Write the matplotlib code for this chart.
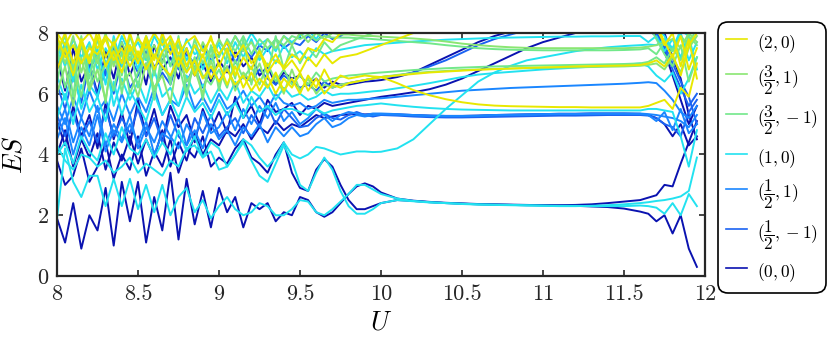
import matplotlib
matplotlib.use("Agg")
import matplotlib.pyplot as plt
from matplotlib.lines import Line2D

# ── Colours (one per symmetry sector) ───────────────────────
PALETTE = {
    "y":   "#e8e800",   # (2,0)
    "g1":  "#8ae672",   # (3/2,1)
    "g2":  "#72e88a",   # (3/2,-1)
    "c":   "#22e2f0",   # (1,0)
    "b1":  "#1a86ff",   # (1/2,1)
    "b2":  "#1a62f2",   # (1/2,-1)
    "d":   "#0a12b0",   # (0,0)
}

plt.rcParams.update({
    "font.family": "serif",
    "font.serif": ["cmr10", "DejaVu Serif"],
    "mathtext.fontset": "cm",
    "axes.unicode_minus": False,
})

# ── Data: U grid and entanglement-spectrum levels ───────────
U = [8.00, 8.05, 8.10, 8.15, 8.20, 8.25, 8.30, 8.35, 8.40, 8.45,
     8.50, 8.55, 8.60, 8.65, 8.70, 8.75, 8.80, 8.85, 8.90, 8.95,
     9.00, 9.05, 9.10, 9.15, 9.20, 9.25, 9.30, 9.35, 9.40, 9.45,
     9.50, 9.55, 9.60, 9.65, 9.70, 9.75, 9.80, 9.85, 9.90, 9.95,
     10.0, 10.1, 10.2, 10.3, 10.4, 10.5, 10.6, 10.7, 10.8, 10.9,
     11.0, 11.1, 11.2, 11.3, 11.4, 11.5, 11.6, 11.65, 11.7, 11.75,
     11.8, 11.85, 11.9, 11.95]

# (0,0) sector
es_d_low = [1.9, 1.1, 2.4, 0.9, 2.0, 1.5, 2.9, 1.0, 3.1, 1.8,
            3.1, 1.1, 2.6, 1.5, 3.4, 1.2, 3.2, 1.7, 2.8, 1.6,
            2.9, 2.1, 2.6, 1.6, 2.4, 2.2, 2.4, 1.8, 2.1, 2.0,
            2.6, 2.5, 2.1, 1.95, 2.1, 2.4, 2.7, 2.95, 3.05, 2.95,
            2.75, 2.55, 2.48, 2.44, 2.41, 2.39, 2.37, 2.36, 2.35, 2.34,
            2.33, 2.32, 2.31, 2.29, 2.27, 2.22, 2.12, 2.05, 1.8, 2.0,
            1.4, 2.0, 0.9, 0.3]
es_d_up = [3.8, 3.0, 3.3, 4.2, 3.1, 3.6, 4.4, 3.2, 4.0, 3.5,
           4.6, 3.3, 4.1, 3.6, 4.5, 3.4, 4.2, 3.9, 4.6, 3.6,
           3.9, 3.7, 4.2, 4.5, 3.9, 3.7, 3.4, 4.0, 4.4, 3.4,
           2.9, 2.8, 3.5, 3.85, 3.6, 3.0, 2.5, 2.2, 2.2, 2.3,
           2.4, 2.5, 2.47, 2.43, 2.40, 2.38, 2.36, 2.35, 2.34, 2.33,
           2.33, 2.33, 2.34, 2.36, 2.40, 2.45, 2.50, 2.58, 2.66, 3.0,
           2.95, 3.7, 4.4, 5.1]
es_d_mid = [4.0, 4.8, 3.6, 4.5, 3.9, 4.7, 3.5, 4.4, 3.8, 4.6,
            3.7, 4.5, 3.9, 4.8, 3.6, 4.4, 3.8, 4.7, 4.0, 4.5,
            4.3, 4.8, 4.6, 5.0, 4.5, 4.9, 4.7, 5.1, 4.8, 5.0,
            4.9, 5.1, 5.3, 5.2, 5.25, 5.3, 5.32, 5.33, 5.32, 5.33,
            5.33, 5.32, 5.30, 5.28, 5.27, 5.27, 5.28, 5.30, 5.31, 5.32,
            5.33, 5.34, 5.34, 5.35, 5.35, 5.35, 5.34, 5.30, 5.20, 5.00,
            4.6, 5.0, 4.3, 4.6]
es_d_rise1 = [5.1, 4.3, 5.6, 4.6, 5.3, 4.2, 5.7, 4.5, 5.4, 4.3,
              5.8, 4.6, 5.5, 4.4, 5.6, 4.9, 5.3, 4.4, 5.5, 4.8,
              5.4, 4.7, 5.9, 5.2, 5.6, 5.0, 5.8, 5.4, 5.5, 5.7,
              5.3, 5.6, 5.5, 5.7, 5.6, 5.65, 5.7, 5.75, 5.8, 5.85,
              5.90, 5.97, 6.05, 6.15, 6.30, 6.50, 6.75, 7.00, 7.25, 7.50,
              7.70, 7.85, 8.00, 8.10, 8.20, 8.20, 8.20, 8.20, 8.20, 8.00,
              7.2, 6.5, 5.3, 4.5]
es_d_rise2 = [7.2, 6.1, 7.5, 6.4, 7.0, 6.0, 7.4, 6.5, 7.7, 6.6,
              7.3, 6.3, 7.6, 6.8, 7.2, 6.5, 7.5, 6.6, 7.0, 6.4,
              7.1, 6.7, 7.4, 6.9, 7.2, 6.6, 6.9, 6.3, 6.7, 6.5,
              6.6, 6.3, 6.5, 6.2, 6.4, 6.3, 6.3, 6.35, 6.4, 6.42,
              6.45, 6.55, 6.70, 6.95, 7.20, 7.45, 7.70, 7.90, 8.05, 8.20,
              8.3, 8.3, 8.3, 8.3, 8.3, 8.3, 8.3, 8.1, 7.9, 7.4,
              6.6, 5.8, 5.0, 5.6]

# (1/2,±1) sectors
es_b_flat1 = [4.8, 5.5, 4.4, 5.2, 4.6, 5.6, 4.3, 5.0, 4.5, 5.3,
              4.2, 4.9, 4.4, 5.1, 4.6, 4.2, 5.0, 4.5, 5.4, 4.7,
              4.9, 5.4, 4.8, 5.5, 5.0, 5.6, 5.2, 5.7, 5.1, 5.4,
              5.0, 5.2, 5.5, 5.3, 5.1, 5.3, 5.4, 5.35, 5.3, 5.35,
              5.35, 5.33, 5.30, 5.28, 5.27, 5.27, 5.28, 5.30, 5.31, 5.32,
              5.33, 5.34, 5.34, 5.35, 5.35, 5.35, 5.35, 5.33, 5.30, 5.25,
              5.2, 5.1, 4.9, 5.3]
es_b_flat2 = [5.3, 4.6, 5.4, 4.5, 5.1, 4.4, 5.5, 4.6, 5.2, 4.7,
              5.5, 4.6, 5.2, 4.4, 5.3, 4.6, 4.3, 5.2, 4.7, 5.3,
              4.6, 4.9, 5.2, 4.7, 5.3, 4.9, 5.6, 5.0, 5.5, 5.2,
              4.9, 4.95, 5.2, 5.35, 5.2, 5.15, 5.3, 5.4, 5.3, 5.25,
              5.3, 5.28, 5.25, 5.23, 5.22, 5.22, 5.23, 5.24, 5.25, 5.26,
              5.27, 5.28, 5.28, 5.29, 5.30, 5.30, 5.30, 5.28, 5.20, 5.00,
              4.9, 4.6, 5.4, 5.8]
es_b_flat3 = [4.5, 5.2, 4.0, 4.9, 4.3, 5.3, 4.1, 4.8, 4.4, 5.0,
              4.4, 5.1, 4.0, 4.7, 4.5, 5.2, 4.3, 4.8, 4.2, 5.0,
              4.5, 4.8, 4.3, 4.9, 4.6, 5.0, 4.4, 4.9, 4.6, 4.9,
              4.6, 4.7, 5.0, 5.2, 4.9, 5.0, 5.2, 5.3, 5.25, 5.3,
              5.32, 5.31, 5.29, 5.27, 5.26, 5.26, 5.27, 5.29, 5.30, 5.31,
              5.32, 5.33, 5.33, 5.34, 5.34, 5.34, 5.33, 5.30, 5.10, 5.40,
              4.8, 5.5, 4.7, 5.0]
es_b_slope = [5.6, 5.0, 5.9, 5.2, 6.1, 5.4, 5.8, 5.1, 6.0, 5.3,
              5.9, 5.4, 6.2, 5.3, 5.8, 5.6, 6.3, 5.5, 5.9, 5.4,
              6.0, 5.5, 5.7, 6.1, 5.6, 5.9, 5.5, 6.0, 5.7, 5.6,
              5.7, 5.5, 5.6, 5.8, 5.7, 5.75, 5.8, 5.8, 5.82, 5.84,
              5.85, 5.90, 5.95, 6.00, 6.05, 6.10, 6.13, 6.16, 6.19, 6.21,
              6.23, 6.25, 6.27, 6.29, 6.31, 6.33, 6.36, 6.38, 6.35, 6.10,
              5.8, 5.4, 5.2, 5.6]
es_b_rise = [6.3, 5.5, 6.6, 5.7, 7.0, 5.9, 6.8, 6.0, 7.1, 6.2,
             6.6, 7.0, 6.1, 6.7, 6.3, 7.2, 6.4, 6.9, 6.2, 6.8,
             6.4, 6.9, 6.2, 6.6, 6.4, 6.8, 6.5, 6.3, 6.6, 6.4,
             6.2, 6.3, 6.1, 6.4, 6.2, 6.3, 6.35, 6.4, 6.45, 6.5,
             6.55, 6.60, 6.70, 6.90, 7.10, 7.35, 7.60, 7.80, 7.95, 8.10,
             8.3, 8.4, 8.5, 8.6, 8.6, 8.6, 8.6, 8.4, 8.0, 7.6,
             7.0, 6.4, 5.9, 5.0]
es_b_top = [6.9, 7.4, 6.5, 7.6, 6.8, 7.3, 6.6, 7.5, 6.9, 7.2,
            6.7, 7.4, 6.9, 7.1, 7.5, 6.8, 7.3, 7.0, 7.6, 7.1,
            7.3, 7.7, 7.0, 7.5, 7.2, 7.6, 7.4, 7.8, 7.5, 7.7,
            7.6, 7.9, 7.7, 8.0, 7.8, 7.9, 8.1, 8.3, 8.5, 8.6,
            8.6, 8.6, 8.6, 8.6, 8.6, 8.6, 8.6, 8.6, 8.6, 8.6,
            8.6, 8.6, 8.6, 8.6, 8.6, 8.6, 8.6, 8.4, 8.0, 7.5,
            6.8, 6.2, 5.6, 6.0]

# (1,0) sector
es_c_low = [1.9, 4.2, 3.1, 2.6, 3.3, 3.3, 2.3, 3.2, 2.3, 3.2,
            2.2, 3.0, 2.1, 3.0, 2.0, 2.6, 2.9, 2.1, 2.5, 1.9,
            2.3, 2.6, 2.2, 2.0, 2.1, 2.4, 2.3, 2.0, 2.0, 2.2,
            2.5, 2.45, 2.1, 2.0, 2.2, 2.45, 2.7, 3.0, 3.0, 2.85,
            2.7, 2.55, 2.47, 2.43, 2.40, 2.38, 2.36, 2.35, 2.34, 2.33,
            2.32, 2.31, 2.31, 2.30, 2.30, 2.30, 2.32, 2.30, 2.25, 2.05,
            2.4, 2.0, 2.7, 2.3]
es_c_up = [4.3, 3.8, 3.5, 4.0, 3.9, 3.6, 3.8, 3.4, 3.6, 3.9,
           3.4, 3.7, 3.5, 3.3, 3.8, 3.6, 4.2, 4.3, 3.9, 4.1,
           3.5, 3.6, 4.0, 4.4, 3.8, 3.3, 3.1, 3.7, 4.3, 3.8,
           3.0, 2.8, 3.4, 3.9, 3.5, 2.8, 2.3, 2.05, 2.05, 2.2,
           2.4, 2.5, 2.46, 2.42, 2.40, 2.37, 2.35, 2.34, 2.33, 2.32,
           2.31, 2.30, 2.30, 2.31, 2.33, 2.36, 2.40, 2.43, 2.47, 2.50,
           2.55, 2.62, 2.8, 3.9]
es_c_scurve = [4.0, 4.4, 3.7, 4.6, 4.1, 3.8, 4.7, 4.0, 4.9, 4.2,
               4.0, 4.5, 3.9, 4.4, 4.0, 4.8, 4.1, 4.6, 3.9, 4.4,
               4.2, 3.6, 4.0, 4.5, 4.3, 3.9, 3.6, 3.9, 4.4, 4.0,
               3.87, 4.0, 4.25, 4.2, 4.1, 4.0, 4.05, 4.1, 4.1, 4.08,
               4.09, 4.2, 4.5, 5.0, 5.5, 5.95, 6.4, 6.7, 6.92, 7.1,
               7.2, 7.3, 7.4, 7.47, 7.53, 7.57, 7.6, 7.62, 7.6, 7.8,
               7.5, 8.1, 7.9, 8.3]
es_c_mid = [5.2, 6.0, 5.0, 6.3, 5.4, 5.9, 5.1, 6.4, 5.3, 6.1,
            5.6, 5.1, 6.0, 5.3, 5.8, 5.2, 5.9, 5.4, 5.7, 5.2,
            5.8, 5.3, 5.7, 5.2, 5.9, 5.4, 5.6, 5.3, 5.5, 5.5,
            5.4, 5.3, 5.5, 5.35, 5.45, 5.5, 5.55, 5.6, 5.62, 5.65,
            5.68, 5.62, 5.57, 5.53, 5.50, 5.48, 5.47, 5.46, 5.45, 5.45,
            5.45, 5.45, 5.45, 5.45, 5.45, 5.45, 5.45, 5.50, 5.50, 5.45,
            5.4, 4.6, 3.6, 4.8]
es_c_seven = [6.6, 5.8, 6.9, 5.5, 6.3, 5.9, 7.1, 5.6, 6.5, 5.8,
              6.4, 5.7, 6.8, 5.9, 6.2, 5.6, 6.6, 6.0, 6.3, 5.7,
              6.2, 5.8, 6.4, 5.7, 6.1, 5.9, 6.3, 5.8, 6.2, 5.9,
              6.0, 5.8, 5.9, 6.1, 5.95, 6.0, 6.0, 6.02, 6.05, 6.08,
              6.10, 6.18, 6.26, 6.35, 6.45, 6.55, 6.63, 6.68, 6.72, 6.76,
              6.80, 6.83, 6.86, 6.89, 6.92, 6.95, 7.00, 6.90, 6.60, 6.40,
              6.7, 6.0, 6.5, 7.2]
es_c_high = [7.0, 7.7, 6.4, 7.8, 6.7, 7.5, 6.3, 7.9, 6.9, 7.6,
             6.8, 7.9, 7.2, 7.7, 6.9, 7.8, 7.1, 7.6, 6.8, 7.5,
             7.6, 7.0, 7.7, 7.2, 7.8, 7.1, 7.5, 7.0, 7.6, 7.2,
             7.4, 7.1, 7.5, 7.3, 7.4, 7.45, 7.5, 7.55, 7.6, 7.62,
             7.64, 7.68, 7.72, 7.75, 7.78, 7.80, 7.82, 7.84, 7.85, 7.86,
             7.87, 7.88, 7.88, 7.89, 7.89, 7.90, 7.90, 7.70, 7.90, 7.40,
             7.8, 7.2, 7.9, 6.8]
es_c_top = [7.6, 6.9, 7.8, 7.2, 7.7, 6.8, 7.5, 7.0, 7.9, 7.3,
            7.7, 7.1, 7.9, 7.4, 7.6, 7.0, 7.8, 7.3, 7.5, 7.0,
            7.7, 7.4, 7.9, 7.5, 8.0, 7.6, 7.8, 7.4, 7.9, 7.7,
            7.9, 8.1, 7.8, 8.2, 8.3, 8.5, 8.6, 8.6, 8.6, 8.6,
            8.6, 8.6, 8.6, 8.6, 8.6, 8.6, 8.6, 8.6, 8.6, 8.6,
            8.6, 8.6, 8.6, 8.6, 8.6, 8.6, 8.6, 8.6, 8.2, 7.9,
            7.4, 8.0, 7.1, 7.7]

# (3/2,±1) sectors
es_g_75a = [7.8, 7.0, 7.9, 6.7, 7.6, 7.0, 8.0, 6.9, 7.7, 7.1,
            7.9, 7.2, 7.6, 7.0, 7.8, 7.1, 7.5, 6.8, 7.7, 7.2,
            7.8, 7.3, 7.9, 7.4, 7.7, 7.2, 7.8, 7.5, 7.9, 7.6,
            8.0, 7.7, 8.0, 7.8, 8.0, 7.95, 7.95, 7.92, 7.90, 7.90,
            7.88, 7.85, 7.82, 7.78, 7.72, 7.65, 7.60, 7.56, 7.53, 7.51,
            7.50, 7.50, 7.50, 7.50, 7.50, 7.50, 7.52, 7.55, 7.60, 7.70,
            7.8, 7.5, 8.0, 7.7]
es_g_75b = [7.3, 7.9, 6.8, 7.6, 6.5, 7.8, 6.9, 7.7, 6.6, 7.9,
            7.1, 7.7, 6.6, 7.9, 6.9, 7.6, 6.7, 7.8, 7.0, 7.5,
            7.2, 7.8, 7.4, 7.9, 7.3, 7.8, 7.5, 7.8, 7.6, 7.9,
            7.8, 7.95, 7.75, 7.9, 7.85, 7.85, 7.85, 7.83, 7.82, 7.80,
            7.78, 7.74, 7.70, 7.66, 7.60, 7.55, 7.50, 7.47, 7.45, 7.44,
            7.43, 7.43, 7.43, 7.43, 7.43, 7.44, 7.46, 7.50, 7.30, 7.70,
            7.4, 7.9, 7.6, 8.2]
es_g_69a = [6.0, 6.9, 5.6, 7.2, 6.1, 6.8, 5.8, 7.4, 6.3, 6.7,
            5.9, 7.0, 6.2, 6.6, 5.7, 7.3, 6.4, 6.8, 6.0, 7.1,
            6.3, 6.9, 6.1, 6.7, 6.4, 7.0, 6.2, 6.6, 6.0, 6.8,
            6.1, 6.5, 6.0, 6.3, 6.2, 6.3, 6.35, 6.4, 6.45, 6.5,
            6.55, 6.62, 6.68, 6.72, 6.75, 6.78, 6.80, 6.82, 6.83, 6.84,
            6.85, 6.86, 6.87, 6.88, 6.89, 6.90, 6.92, 6.95, 7.00, 6.80,
            7.2, 6.7, 7.5, 7.9]
es_g_69b = [7.5, 6.2, 7.1, 5.9, 7.3, 6.4, 7.0, 6.1, 7.4, 6.0,
            6.7, 7.3, 6.1, 6.9, 6.5, 7.0, 5.9, 7.2, 6.6, 6.3,
            6.8, 6.2, 7.1, 6.5, 6.9, 6.3, 7.0, 6.4, 6.8, 6.3,
            6.6, 6.3, 6.7, 6.4, 6.5, 6.55, 6.6, 6.62, 6.65, 6.68,
            6.70, 6.74, 6.78, 6.81, 6.84, 6.86, 6.88, 6.90, 6.91, 6.92,
            6.93, 6.94, 6.95, 6.96, 6.97, 6.98, 7.00, 7.05, 7.20, 7.00,
            7.5, 7.1, 7.9, 7.6]
es_g_top = [6.4, 7.6, 5.9, 7.9, 6.2, 7.3, 5.7, 7.8, 6.0, 7.5,
            6.2, 7.7, 5.8, 7.4, 6.3, 7.9, 6.0, 7.2, 5.8, 7.6,
            6.1, 7.3, 6.5, 7.8, 6.3, 7.5, 6.6, 7.9, 6.8, 7.6,
            7.0, 7.5, 7.2, 7.7, 7.4, 7.6, 7.7, 7.8, 7.9, 8.0,
            8.05, 8.2, 8.4, 8.6, 8.6, 8.6, 8.6, 8.6, 8.6, 8.6,
            8.6, 8.6, 8.6, 8.6, 8.6, 8.6, 8.6, 8.3, 7.8, 7.3,
            6.9, 7.6, 6.4, 7.2]

# (2,0) sector
es_y_desc = [7.9, 7.2, 7.6, 7.0, 7.5, 7.3, 7.8, 7.1, 7.5, 6.9,
             7.4, 6.8, 7.3, 6.9, 6.6, 7.2, 6.7, 7.1, 6.5, 6.9,
             6.4, 6.8, 6.3, 6.6, 6.1, 6.5, 6.2, 6.7, 6.1, 6.5,
             6.0, 6.6, 6.2, 6.8, 6.3, 6.6, 6.5, 6.55, 6.6, 6.57,
             6.55, 6.35, 6.12, 5.95, 5.82, 5.72, 5.65, 5.61, 5.59, 5.58,
             5.57, 5.56, 5.56, 5.55, 5.55, 5.55, 5.55, 5.60, 5.70, 5.80,
             5.5, 6.2, 5.9, 7.0]
es_y_top = [8.0, 7.6, 8.1, 7.7, 8.0, 7.5, 7.9, 7.6, 8.1, 7.4,
            7.8, 7.5, 8.0, 7.6, 7.9, 7.3, 7.7, 7.9, 7.4, 7.8,
            7.3, 7.7, 7.2, 7.6, 7.0, 7.4, 6.9, 7.3, 6.8, 7.1,
            6.7, 7.2, 6.9, 7.3, 7.0, 7.2, 7.25, 7.3, 7.4, 7.5,
            7.6, 7.8, 8.0, 8.2, 8.4, 8.5, 8.5, 8.5, 8.5, 8.5,
            8.5, 8.5, 8.5, 8.5, 8.5, 8.5, 8.5, 8.5, 8.2, 7.6,
            8.0, 6.9, 7.8, 6.5]
es_y_69 = [6.8, 7.5, 6.6, 7.7, 7.0, 7.9, 6.9, 7.4, 6.7, 7.6,
           7.0, 7.8, 6.8, 7.4, 7.7, 6.9, 7.5, 6.6, 7.3, 6.5,
           7.0, 6.3, 6.9, 6.2, 6.7, 6.1, 6.6, 6.0, 6.5, 6.2,
           6.7, 6.1, 6.5, 6.0, 6.3, 6.2, 6.35, 6.4, 6.45, 6.5,
           6.55, 6.60, 6.65, 6.70, 6.73, 6.76, 6.79, 6.81, 6.83, 6.85,
           6.87, 6.88, 6.90, 6.91, 6.92, 6.93, 6.95, 7.00, 7.10, 6.90,
           7.3, 6.6, 7.6, 8.0]
es_y_exit = [7.4, 8.0, 7.0, 7.8, 7.1, 8.1, 7.2, 7.7, 7.0, 8.0,
             7.2, 7.9, 7.1, 8.0, 7.3, 7.8, 6.9, 7.6, 7.2, 7.9,
             6.9, 7.5, 6.6, 7.2, 6.8, 7.4, 6.7, 7.1, 6.9, 7.3,
             7.1, 7.5, 7.4, 7.8, 7.7, 8.0, 8.2, 8.4, 8.6, 8.6,
             8.6, 8.6, 8.6, 8.6, 8.6, 8.6, 8.6, 8.6, 8.6, 8.6,
             8.6, 8.6, 8.6, 8.6, 8.6, 8.6, 8.6, 8.6, 8.3, 7.7,
             7.2, 7.9, 6.8, 7.5]

x_ticks = [8, 8.5, 9, 9.5, 10, 10.5, 11, 11.5, 12]
x_ticklabels = ["8", "8.5", "9", "9.5", "10", "10.5", "11", "11.5", "12"]
y_ticks = [0, 2, 4, 6, 8]
y_ticklabels = ["0", "2", "4", "6", "8"]

sector_labels = [r"$(2,0)$", r"$(\dfrac{3}{2},1)$", r"$(\dfrac{3}{2},-1)$", r"$(1,0)$",
                 r"$(\dfrac{1}{2},1)$", r"$(\dfrac{1}{2},-1)$", r"$(0,0)$"]
sector_keys = ["y", "g1", "g2", "c", "b1", "b2", "d"]

# drawing order: dark blue at the bottom, yellow on top
layers = [
    ("d",  [es_d_mid, es_d_rise1, es_d_rise2, es_d_up, es_d_low]),
    ("b2", [es_b_flat2, es_b_rise, es_b_top]),
    ("b1", [es_b_flat1, es_b_flat3, es_b_slope]),
    ("c",  [es_c_top, es_c_high, es_c_seven, es_c_mid, es_c_scurve, es_c_up, es_c_low]),
    ("g2", [es_g_75b, es_g_69b, es_g_top]),
    ("g1", [es_g_75a, es_g_69a]),
    ("y",  [es_y_exit, es_y_69, es_y_top, es_y_desc]),
]

fig = plt.figure(figsize=(8.3, 3.43), dpi=100)
ax = fig.add_axes([57 / 830, 67 / 343, 648 / 830, 243 / 343])

for key, group in layers:
    for es in group:
        ax.plot(U, es, color=PALETTE[key], lw=1.4)

ax.set_xlim(8, 12)
ax.set_ylim(0, 8)
ax.set_xticks(x_ticks)
ax.set_xticklabels(x_ticklabels)
ax.set_yticks(y_ticks)
ax.set_yticklabels(y_ticklabels)
ax.tick_params(direction="in", length=4, width=1.2, top=True, right=True,
               labelsize=16, colors="#262626", pad=6)
for sp in ax.spines.values():
    sp.set_linewidth(1.6)
    sp.set_color("#262626")

ax.set_xlabel(r"$U$", fontsize=19, labelpad=5)
ax.set_ylabel(r"$ES$", fontsize=19, labelpad=8)

handles = [Line2D([], [], color=PALETTE[k], lw=1.2) for k in sector_keys]
leg = fig.legend(handles, sector_labels, loc="center left",
                 bbox_to_anchor=(718 / 830, 1 - 157.5 / 343),
                 fontsize=12.5, handlelength=1.2, handleheight=2.0,
                 labelspacing=0.4, handletextpad=0.6, borderpad=0.45,
                 borderaxespad=0, fancybox=True, framealpha=1)
leg.get_frame().set_edgecolor("black")
leg.get_frame().set_linewidth(1.2)
leg.get_frame().set_boxstyle("round", pad=0.0, rounding_size=0.6)

fig.savefig("out.png", dpi=100)
